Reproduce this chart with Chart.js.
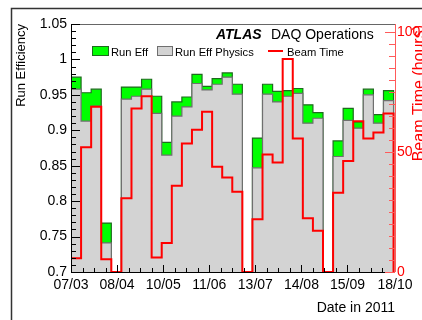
<!DOCTYPE html>
<html>
<head>
<meta charset="utf-8">
<script src="https://cdn.jsdelivr.net/npm/chart.js@4.4.1/dist/chart.umd.min.js"></script>
<style>
  html, body { margin: 0; padding: 0; background: #fff; overflow: hidden; }
  canvas { display: block; }
</style>
</head>
<body>
<canvas id="c" width="422" height="320"></canvas>
<script>
// Weekly bins (start date of each week)
const weekStart = [
  '2011-03-07', '2011-03-14', '2011-03-21', '2011-03-28',
  '2011-04-04', '2011-04-11', '2011-04-18', '2011-04-25',
  '2011-05-02', '2011-05-09', '2011-05-16', '2011-05-23', '2011-05-30',
  '2011-06-06', '2011-06-13', '2011-06-20', '2011-06-27',
  '2011-07-04', '2011-07-11', '2011-07-18', '2011-07-25',
  '2011-08-01', '2011-08-08', '2011-08-15', '2011-08-22', '2011-08-29',
  '2011-09-05', '2011-09-12', '2011-09-19', '2011-09-26',
  '2011-10-03', '2011-10-10'
];

// Run efficiency per week (0 = no running that week)
const runEff = [
  0.975, 0.953, 0.958, 0.769, 0, 0.961, 0.961, 0.972,
  0.948, 0.883, 0.940, 0.947, 0.979, 0.962, 0.973, 0.981,
  0.965, 0, 0.889, 0.965, 0.955, 0.956, 0.959, 0.936,
  0.925, 0, 0.885, 0.931, 0.912, 0.958, 0.922, 0.956
];

// Run efficiency for physics runs per week
const runEffPhysics = [
  0.958, 0.913, 0.934, 0.741, 0, 0.944, 0.948, 0.958,
  0.924, 0.865, 0.920, 0.933, 0.966, 0.957, 0.965, 0.975,
  0.951, 0, 0.847, 0.951, 0.940, 0.948, 0.952, 0.910,
  0.917, 0, 0.863, 0.914, 0.903, 0.950, 0.910, 0.942
];

// Stable beam time per week, in hours
const beamHours = [
  5.7, 52.0, 68.9, 5.3, 0, 30.7, 68.2, 73.3,
  6.0, 12.1, 36.0, 53.6, 59.3, 66.8, 43.9, 39.4,
  33.5, 0, 22.0, 49.0, 45.7, 88.8, 55.7, 22.4,
  17.2, 0, 33.0, 46.3, 62.9, 55.7, 58.2, 66.1
];

// Date axis labels
const dateTicks = ['2011-03-07', '2011-04-08', '2011-05-10', '2011-06-11',
                   '2011-07-13', '2011-08-14', '2011-09-15', '2011-10-18'];
const dateTickLabels = ['07/03', '08/04', '10/05', '11/06', '13/07', '14/08', '15/09', '18/10'];
const axisEndDate = '2011-10-18';

// Efficiency axis labels
const effTicks = [0.7, 0.75, 0.8, 0.85, 0.9, 0.95, 1, 1.05];
const effTickLabels = ['0.7', '0.75', '0.8', '0.85', '0.9', '0.95', '1', '1.05'];

// Beam time axis labels
const hourTicks = [0, 50, 100];
const hourTickLabels = ['0', '50', '100'];

const FONT = '"Liberation Sans", Arial, Helvetica, sans-serif';
const GREEN = '#00ff00', GREEN_EDGE = '#1f6a1f';
const GREY = '#d3d3d3', GREY_EDGE = '#6f6f6f';
const RED = '#ff0000';

const DAY = 864e5;
const t0 = Date.parse(weekStart[0] + 'T00:00:00Z');
const dayOf = s => (Date.parse(s + 'T00:00:00Z') - t0) / DAY;

// Histogram outline: rises from zero at the first edge, holds each weekly
// value across its bin and drops back to zero after the last bin.
function histPoints(values) {
  const pts = [{ x: dayOf(weekStart[0]), y: 0 }];
  values.forEach((v, i) => pts.push({ x: dayOf(weekStart[i]), y: v }));
  const last = values.length - 1;
  const end = dayOf(weekStart[last]) + 7;
  pts.push({ x: end, y: values[last] });
  pts.push({ x: end, y: 0 });
  return pts;
}

Chart.defaults.font.family = FONT;
Chart.defaults.color = '#000';

const decor = {
  id: 'decor',
  beforeDraw(chart) {
    const { ctx, width, height } = chart;
    ctx.save();
    ctx.fillStyle = '#fff';
    ctx.fillRect(0, 0, width, height);
    ctx.strokeStyle = '#333';
    ctx.lineWidth = 1.5;
    ctx.beginPath();
    ctx.moveTo(11.5, height);
    ctx.lineTo(11.5, 8.5);
    ctx.lineTo(width, 8.5);
    ctx.stroke();
    ctx.restore();
  },
  afterDatasetsDraw(chart) {
    const { ctx, chartArea: a, scales: { x, y, y2 } } = chart;
    const px = v => Math.round(v) + 0.5;
    ctx.save();
    ctx.lineWidth = 1;

    // frame top
    ctx.strokeStyle = '#666';
    ctx.beginPath();
    ctx.moveTo(a.left, px(a.top));
    ctx.lineTo(a.right, px(a.top));
    ctx.stroke();

    // left and bottom axes with inward ticks
    ctx.strokeStyle = '#000';
    ctx.beginPath();
    ctx.moveTo(px(a.left), a.top);
    ctx.lineTo(px(a.left), a.bottom);
    for (let k = 70; k <= 105; k++) {
      const yy = px(y.getPixelForValue(k / 100));
      const len = k % 5 === 0 ? 9 : 5;
      ctx.moveTo(a.left, yy);
      ctx.lineTo(a.left + len, yy);
    }
    ctx.moveTo(a.left, px(a.bottom));
    ctx.lineTo(a.right, px(a.bottom));
    const majors = dateTicks.map(dayOf);
    majors.forEach(d => {
      const xx = px(x.getPixelForValue(d));
      ctx.moveTo(xx, a.bottom);
      ctx.lineTo(xx, a.bottom - 7);
    });
    for (let d = 8; d < x.max; d += 8) {
      if (majors.some(m => Math.abs(m - d) < 2)) continue;
      const xx = px(x.getPixelForValue(d));
      ctx.moveTo(xx, a.bottom);
      ctx.lineTo(xx, a.bottom - 4);
    }
    ctx.stroke();

    // right (beam time) axis
    ctx.strokeStyle = '#ff5a5a';
    ctx.beginPath();
    ctx.moveTo(px(a.right), a.top);
    ctx.lineTo(px(a.right), a.bottom);
    for (let h = 0; h <= 100; h += 5) {
      const yy = px(y2.getPixelForValue(h));
      const len = h % 50 === 0 ? 10 : 6;
      ctx.moveTo(a.right, yy);
      ctx.lineTo(a.right - len, yy);
    }
    ctx.stroke();
    ctx.restore();
  },
  afterDraw(chart) {
    const { ctx } = chart;
    const ds = chart.data.datasets;
    const eff = ds.find(d => d.id === 'eff');
    const phys = ds.find(d => d.id === 'phys');
    const beam = ds.find(d => d.id === 'beam');
    ctx.save();

    // header
    ctx.textBaseline = 'alphabetic';
    ctx.textAlign = 'left';
    ctx.fillStyle = '#000';
    ctx.font = 'italic bold 14px ' + FONT;
    ctx.fillText('ATLAS', 216, 38.5);
    ctx.font = '14px ' + FONT;
    ctx.fillText('DAQ Operations', 271, 38.5);

    // legend
    ctx.font = '11.2px ' + FONT;
    ctx.lineWidth = 1;
    ctx.fillStyle = eff.backgroundColor;
    ctx.fillRect(92, 46, 17, 10);
    ctx.strokeStyle = eff.borderColor;
    ctx.strokeRect(92.5, 46.5, 16, 9);
    ctx.fillStyle = '#000';
    ctx.fillText(eff.label, 111, 55.5);

    ctx.fillStyle = phys.backgroundColor;
    ctx.fillRect(157, 46, 16, 10);
    ctx.strokeStyle = phys.borderColor;
    ctx.strokeRect(157.5, 46.5, 15, 9);
    ctx.fillStyle = '#000';
    ctx.fillText(phys.label, 175, 55.5);

    ctx.strokeStyle = beam.borderColor;
    ctx.lineWidth = 2;
    ctx.beginPath();
    ctx.moveTo(268, 51);
    ctx.lineTo(283, 51);
    ctx.stroke();
    ctx.fillStyle = '#000';
    ctx.fillText(beam.label, 287, 55.5);

    // right axis title
    ctx.translate(412, 25);
    ctx.rotate(-Math.PI / 2);
    ctx.font = '16px ' + FONT;
    ctx.fillStyle = RED;
    ctx.textAlign = 'right';
    ctx.textBaseline = 'top';
    ctx.fillText('Beam Time (hours)', 0, 0);
    ctx.restore();
  }
};

new Chart(document.getElementById('c'), {
  type: 'line',
  data: {
    datasets: [
      {
        id: 'beam',
        label: 'Beam Time',
        data: histPoints(beamHours),
        yAxisID: 'y2',
        stepped: 'before',
        borderColor: RED,
        borderWidth: 2,
        pointRadius: 0,
        fill: false,
        order: 0
      },
      {
        id: 'phys',
        label: 'Run Eff Physics',
        data: histPoints(runEffPhysics),
        yAxisID: 'y',
        stepped: 'before',
        borderColor: GREY_EDGE,
        borderWidth: 1.2,
        backgroundColor: GREY,
        pointRadius: 0,
        fill: 'start',
        order: 1
      },
      {
        id: 'eff',
        label: 'Run Eff',
        data: histPoints(runEff),
        yAxisID: 'y',
        stepped: 'before',
        borderColor: GREEN_EDGE,
        borderWidth: 1.2,
        backgroundColor: GREEN,
        pointRadius: 0,
        fill: 'start',
        order: 2
      }
    ]
  },
  options: {
    responsive: false,
    animation: false,
    devicePixelRatio: 1,
    events: [],
    layout: { padding: { top: 24, left: 0, right: 0, bottom: 0 } },
    plugins: {
      legend: { display: false },
      tooltip: { enabled: false },
      filler: { propagate: false }
    },
    scales: {
      x: {
        type: 'linear',
        position: 'bottom',
        min: dayOf(weekStart[0]),
        max: dayOf(axisEndDate),
        grid: { display: false, drawTicks: false },
        border: { display: false },
        afterBuildTicks: s => { s.ticks = dateTicks.map(d => ({ value: dayOf(d) })); },
        afterFit: s => { s.height = 48; },
        ticks: {
          autoSkip: false,
          maxRotation: 0,
          padding: 5,
          color: '#000',
          font: { size: 14 },
          callback: (v, i) => dateTickLabels[i]
        },
        title: {
          display: true,
          text: 'Date in 2011',
          align: 'end',
          color: '#000',
          font: { size: 14 },
          padding: { top: 0, bottom: 3 }
        }
      },
      y: {
        type: 'linear',
        position: 'left',
        min: 0.7,
        max: 1.05,
        grid: { display: false, drawTicks: false },
        border: { display: false },
        afterBuildTicks: s => { s.ticks = effTicks.map(v => ({ value: v })); },
        afterFit: s => { s.width = 71; },
        ticks: {
          autoSkip: false,
          padding: 4,
          color: '#000',
          font: { size: 14 },
          callback: (v, i) => effTickLabels[i]
        },
        title: {
          display: true,
          text: 'Run Efficiency',
          align: 'end',
          color: '#000',
          font: { size: 13 },
          padding: { top: 14, bottom: 0 }
        }
      },
      y2: {
        type: 'linear',
        position: 'right',
        min: 0,
        max: 103.4,
        grid: { display: false, drawTicks: false },
        border: { display: false },
        afterBuildTicks: s => { s.ticks = hourTicks.map(v => ({ value: v })); },
        afterFit: s => { s.width = 27; },
        ticks: {
          autoSkip: false,
          padding: 2,
          color: RED,
          font: { size: 14 },
          callback: (v, i) => hourTickLabels[i]
        }
      }
    }
  },
  plugins: [decor]
});
</script>
</body>
</html>
